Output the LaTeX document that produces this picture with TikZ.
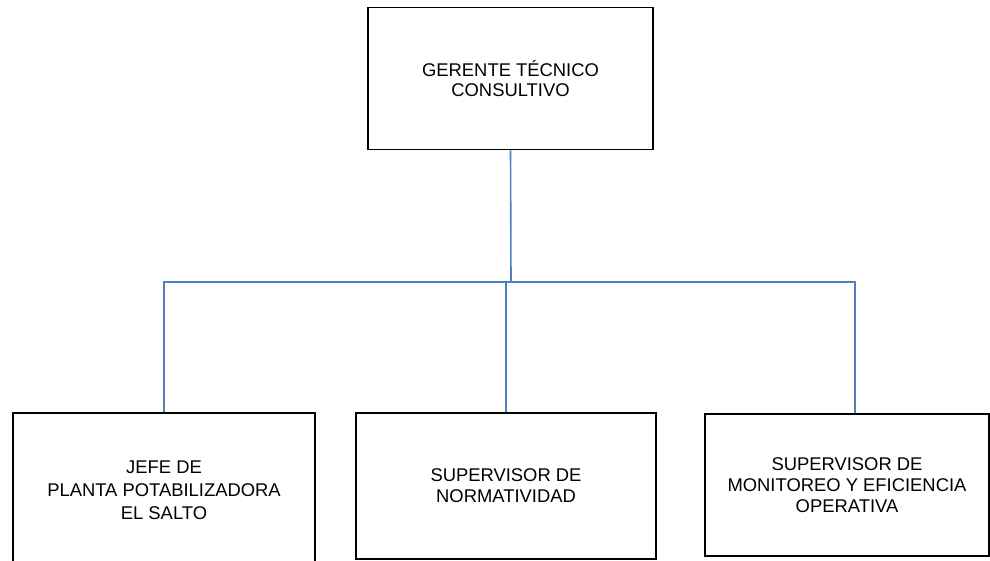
\documentclass[tikz,border=0pt]{standalone}
\usepackage{fontspec}
\setmainfont{Liberation Sans}
\usepackage{tikz}
\usetikzlibrary{positioning,calc}
\definecolor{linkblue}{HTML}{4F81BD}

\begin{document}
\begin{tikzpicture}[x=1pt,y=-1pt,
  box/.style={draw=black,line width=1.6pt,align=center,inner sep=0pt,
    font=\fontsize{18.4}{21}\selectfont},
  link/.style={draw=linkblue,line width=1.6pt}]
  \clip (0,0) rectangle (990,561);
  \node[box,minimum width=285pt,minimum height=142pt,font=\fontsize{18.4}{19.5}\selectfont] (ger) at (510.5,78.5) {GERENTE TÉCNICO\\CONSULTIVO};
  \node[box,minimum width=302pt,minimum height=154pt,font=\fontsize{18.4}{23}\selectfont] (jefe) at (164,490) {JEFE DE\\PLANTA POTABILIZADORA\\EL SALTO};
  \node[box,minimum width=300pt,minimum height=146pt] (norm) at (506,486) {SUPERVISOR DE\\NORMATIVIDAD};
  \node[box,minimum width=284pt,minimum height=142pt] (moni) at (847,485) {SUPERVISOR DE\\MONITOREO Y EFICIENCIA\\OPERATIVA};
  \coordinate (bus) at (511,282);
  \coordinate (monin) at ($(moni.north)+(8,0)$);
  \draw[link] (ger.south) -- (bus);
  \draw[link] (jefe.north) |- (bus) -| (monin);
  \draw[link] (norm.north) -- (norm.north |- bus);
\end{tikzpicture}
\end{document}
